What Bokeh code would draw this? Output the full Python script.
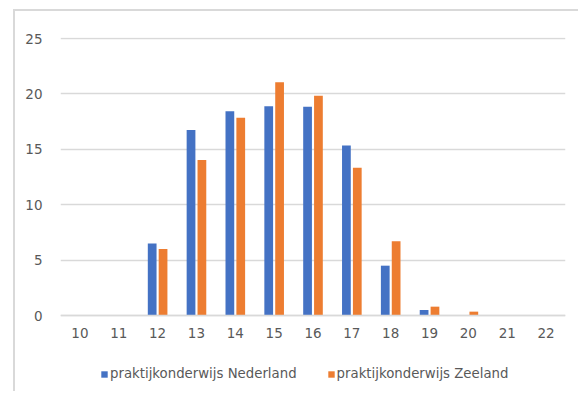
from bokeh.plotting import figure
from bokeh.models import FactorRange, Range1d, FixedTicker, Legend, LegendItem, ColumnDataSource
from bokeh.transform import dodge
from bokeh.embed import file_html
from bokeh.resources import INLINE

ages = ["10", "11", "12", "13", "14", "15", "16", "17", "18", "19", "20", "21", "22"]
nederland = [0, 0, 6.5, 16.75, 18.45, 18.9, 18.85, 15.35, 4.5, 0.5, 0, 0, 0]
zeeland = [0, 0, 6.0, 14.05, 17.85, 21.05, 19.85, 13.35, 6.7, 0.8, 0.35, 0, 0]
series_names = ["praktijkonderwijs Nederland", "praktijkonderwijs Zeeland"]
y_ticks = [0, 5, 10, 15, 20, 25]

src = ColumnDataSource(dict(age=ages, ned=nederland, zee=zeeland))

FONT = "DejaVu Sans"
TXT = "#595959"
GRID = "#d9d9d9"

p = figure(x_range=FactorRange(*ages, range_padding=0), y_range=Range1d(-7.04, 25.1),
           width=565, height=382, output_backend="svg", toolbar_location=None,
           min_border_left=45, min_border_right=15, min_border_top=26, min_border_bottom=0)
p.styles = {"margin-left": "13px", "margin-top": "9px",
            "border-left": "2px solid #d9d9d9", "border-top": "2px solid #d9d9d9"}
p.outline_line_color = None
p.background_fill_color = "white"
p.border_fill_color = "white"

r1 = p.vbar(x=dodge("age", -0.14, range=p.x_range), top="ned", width=0.225, source=src,
            fill_color="#4472C4", line_color=None)
r2 = p.vbar(x=dodge("age", 0.14, range=p.x_range), top="zee", width=0.225, source=src,
            fill_color="#ED7D31", line_color=None)

p.xgrid.grid_line_color = None
p.ygrid.grid_line_color = GRID
p.ygrid.grid_line_width = 1.3
p.ygrid.ticker = FixedTicker(ticks=y_ticks)

p.yaxis.ticker = FixedTicker(ticks=y_ticks)
p.yaxis.axis_line_color = None
p.yaxis.major_tick_line_color = None
p.yaxis.minor_tick_line_color = None
p.yaxis.major_label_standoff = 12
p.yaxis.major_label_text_font = FONT
p.yaxis.major_label_text_font_size = "13.5px"
p.yaxis.major_label_text_color = TXT

p.xaxis.fixed_location = 0
p.xaxis.axis_line_color = GRID
p.xaxis.axis_line_width = 1.3
p.xaxis.major_tick_line_color = None
p.xaxis.minor_tick_line_color = None
p.xaxis.major_label_standoff = 6
p.xaxis.major_label_text_font = FONT
p.xaxis.major_label_text_font_size = "13.5px"
p.xaxis.major_label_text_color = TXT

legend = Legend(items=[LegendItem(label=series_names[0], renderers=[r1]),
                       LegendItem(label=series_names[1], renderers=[r2])],
                orientation="horizontal", location=(40, 12),
                glyph_width=8, glyph_height=8, label_standoff=2, spacing=30,
                padding=0, margin=0, border_line_color=None, background_fill_alpha=0,
                label_text_font=FONT, label_text_font_size="13.3px", label_text_color=TXT,
                label_height=13)
p.add_layout(legend)

open("out.html", "w").write(file_html(p, INLINE))
